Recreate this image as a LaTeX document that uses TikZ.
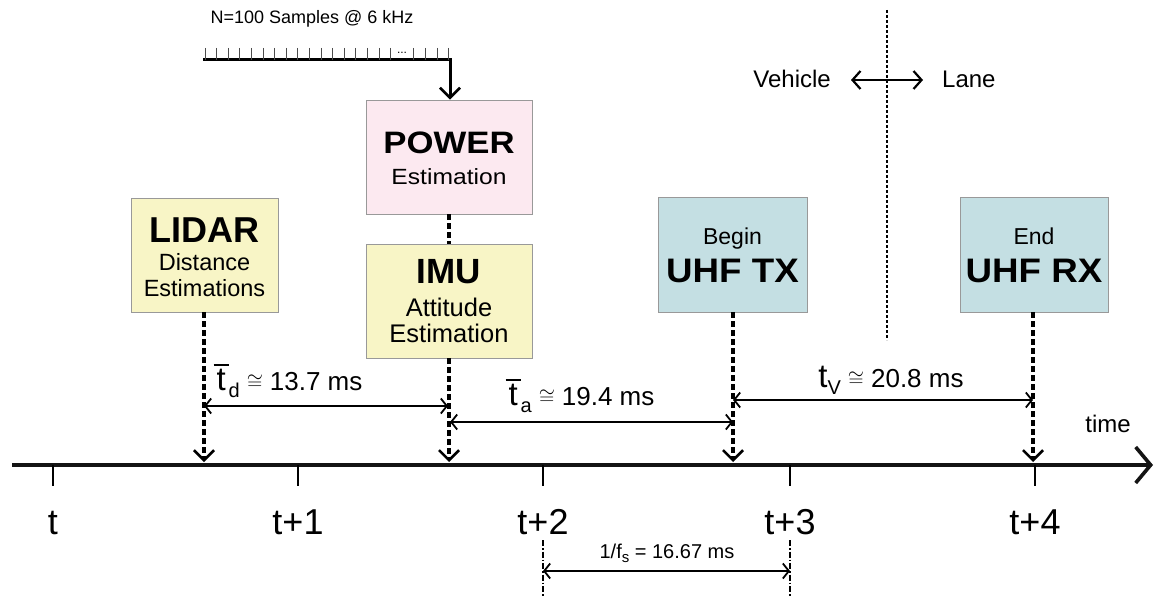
\documentclass[tikz,border=0pt]{standalone}
\usepackage{fontspec}
\setmainfont{Liberation Sans}
\usetikzlibrary{arrows.meta}
\newcommand{\fs}[1]{\fontsize{#1}{#1}\selectfont}
\newcommand{\barT}[1]{\leavevmode\vbox{\hrule height 2.6pt width 15pt\kern 2.5pt\hbox to 15pt{\hss\fs{#1}t\hss}}}
\newcommand{\apx}{\hspace{7pt}\raisebox{1pt}{\fs{20}$\cong$}\hspace{7pt}}
\begin{document}
\begin{tikzpicture}[x=1pt,y=-1pt,
  box/.style={draw=black!40, line width=0.9pt, inner sep=0pt},
  ybox/.style={box, fill=yellowbox},
  pbox/.style={box, fill=pinkbox},
  bbox/.style={box, fill=bluebox},
  txt/.style={inner sep=0pt, anchor=base},
  evt/.style={line width=3.4pt, dash pattern=on 6pt off 3pt, -{Straight Barb[length=10pt,width=20pt,line width=2.6pt]}},
  dim/.style={line width=1.8pt, {Straight Barb[length=6pt,width=15pt,line width=1.8pt]}-{Straight Barb[length=6pt,width=15pt,line width=1.8pt]}},
  lbl/.style={inner sep=0pt, anchor=base},
]
\definecolor{yellowbox}{HTML}{F8F5C6}
\definecolor{pinkbox}{HTML}{FCE9F0}
\definecolor{bluebox}{HTML}{C4DFE3}
\definecolor{axiscol}{HTML}{141414}
\useasboundingbox (0,0) rectangle (1156,596);

% boxes
\node[ybox, minimum width=147pt, minimum height=114pt] (lidar) at (204.5,255) {};
\node[txt, font=\fs{36}\bfseries] (lidar1) at (204.5,242) {LIDAR};
\node[txt, font=\fs{23.5}] (lidar2) at (204.5,270) {Distance};
\node[txt, font=\fs{23.5}] (lidar3) at (204.5,296) {Estimations};

\node[pbox, minimum width=166pt, minimum height=114pt] (power) at (449,157) {};
\node[txt, font=\fs{31}\bfseries] (power1) at (449,154) {\scalebox{1.12}[1]{POWER}};
\node[txt, font=\fs{22}] (power2) at (449,185) {\scalebox{1.12}[1]{Estimation}};

\node[ybox, minimum width=166pt, minimum height=114pt] (imu) at (449,301) {};
\node[txt, font=\fs{35}\bfseries] (imu1) at (449,283) {IMU};
\node[txt, font=\fs{25.5}] (imu2) at (449,316) {Attitude};
\node[txt, font=\fs{25.5}] (imu3) at (449,342) {Estimation};

\node[bbox, minimum width=149pt, minimum height=115pt] (tx) at (732.5,254.5) {};
\node[txt, font=\fs{23}] (tx1) at (732.5,244) {Begin};
\node[txt, font=\fs{34}\bfseries] (tx2) at (732.5,282) {\scalebox{1.08}[1]{UHF TX}};

\node[bbox, minimum width=148pt, minimum height=115pt] (rx) at (1034,254.5) {};
\node[txt, font=\fs{23}] (rx1) at (1034,244) {End};
\node[txt, font=\fs{34}\bfseries] (rx2) at (1034,282) {\scalebox{1.08}[1]{UHF RX}};

% time axis
\coordinate (axL) at (12,465);
\coordinate (axR) at (1153,465);
\draw[line width=4.6pt, axiscol, -{Straight Barb[length=15pt,width=36pt,line width=3.6pt]}] (axL) -- (axR);
\node[lbl, font=\fs{24}] (time) at (1108,432) {time};

\foreach \x/\t/\n in {53/t/k0, 298/t+1/k1, 543/t+2/k2, 790/t+3/k3, 1035/t+4/k4}{
  \coordinate (\n) at (\x,465);
  \draw[line width=2.2pt] (\n) -- ++(0,21);
  \node[lbl, font=\fs{36}] (l\n) at (\x,534) {\t};
}

% event arrows
\coordinate (eL) at (204,462);
\coordinate (eI) at (449,462);
\coordinate (eT) at (733,462);
\coordinate (eR) at (1033,462);
\draw[evt] (lidar.south -| eL) -- (eL);
\draw[evt] (imu.south -| eI) -- (eI);
\draw[evt] (tx.south -| eT) -- (eT);
\draw[evt] (rx.south -| eR) -- (eR);
\draw[line width=3.4pt, dash pattern=on 6pt off 3pt] (power.south) -- (imu.north);

% dimension arrows
\coordinate (dL) at (204,406); \coordinate (dI) at (448,406);
\draw[dim] (dL) -- (dI);
\node[lbl] (tdl) at (288,390) {\barT{33}\raisebox{-7pt}{\fs{20}d}\apx{\fs{26}13.7 ms}};
\coordinate (aI) at (450,422); \coordinate (aT) at (733,422);
\draw[dim] (aI) -- (aT);
\node[lbl] (tal) at (580,405) {\barT{33}\raisebox{-7pt}{\fs{20}a}\apx{\fs{26}19.4 ms}};
\coordinate (vT) at (733,400); \coordinate (vR) at (1033,400);
\draw[dim] (vT) -- (vR);
\node[lbl] (tvl) at (891,387) {{\fs{33}t}\raisebox{-7pt}{\fs{20}V}\apx{\fs{26}20.8 ms}};

% sampling period
\draw[line width=1.1pt, dash pattern=on 6pt off 2pt on 1.5pt off 2pt] (543,540) -- (543,596);
\draw[line width=1.1pt, dash pattern=on 6pt off 2pt on 1.5pt off 2pt] (790,540) -- (790,596);
\coordinate (sA) at (543,571); \coordinate (sB) at (790,571);
\draw[dim] (sA) -- (sB);
\node[lbl, font=\fs{20}] (fsl) at (667,558) {1/f\raisebox{-4pt}{\fs{15}s} = 16.67 ms};

% samples bar
\node[lbl, font=\fs{18}] (samp) at (312,24) {N=100 Samples @ 6 kHz};
\coordinate (s0) at (203,60);
\coordinate (s1) at (450,60);
\draw[line width=3pt, -{Straight Barb[length=10pt,width=20pt,line width=2.6pt]}] (s0) -- (s1) -- (power.north -| s1);
\foreach \k in {0,...,21}{
  \ifnum\k=17\else
  \draw[line width=0.8pt, black!70] (205+11.6*\k,48) -- (205+11.6*\k,60);
  \fi
}
\node[inner sep=0pt, font=\fs{12}] (dots) at (402,53) {...};

% vehicle / lane divider
\coordinate (dvT) at (887,10);
\coordinate (dvB) at (887,340);
\draw[line width=1.8pt, dash pattern=on 3pt off 2pt] (dvT) -- (dvB);
\coordinate (vl) at (851,80); \coordinate (vr) at (923,80);
\draw[line width=2.4pt, {Straight Barb[length=8pt,width=18pt,line width=2.2pt]}-{Straight Barb[length=8pt,width=18pt,line width=2.2pt]}] (vl) -- (vr);
\node[lbl, anchor=base east, font=\fs{24}] (veh) at (831,88) {Vehicle};
\node[lbl, anchor=base west, font=\fs{24}] (lane) at (942,88) {Lane};
\end{tikzpicture}
\end{document}
